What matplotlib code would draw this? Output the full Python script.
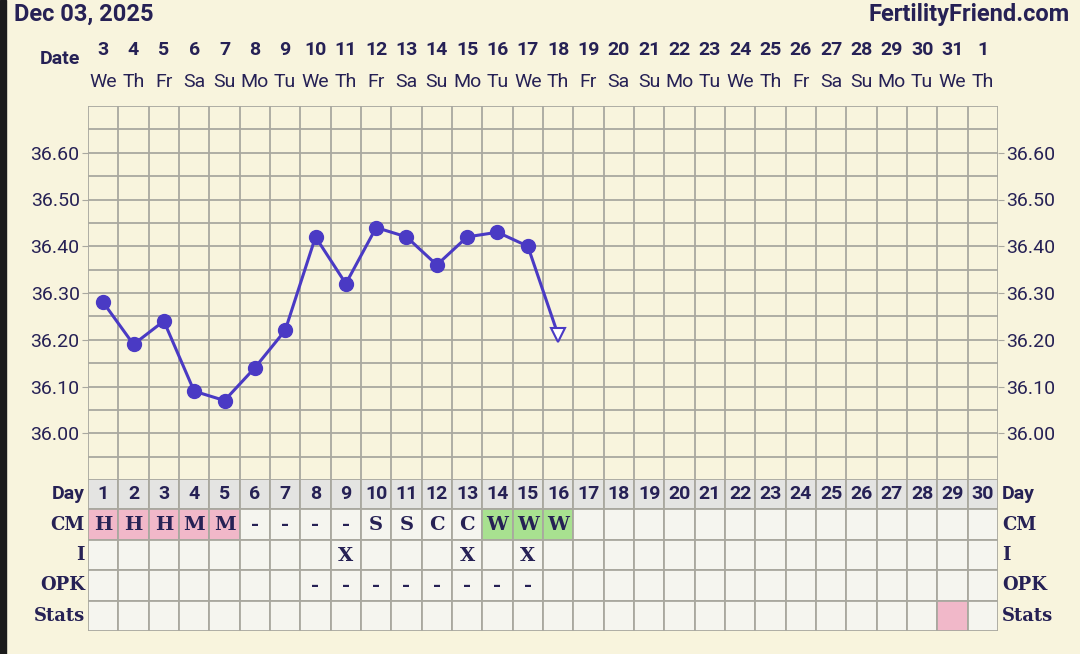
import matplotlib
matplotlib.use("Agg")
import matplotlib.pyplot as plt
from matplotlib.patches import Rectangle
import matplotlib.transforms as mtransforms
import pandas as pd

# chart data
title_date = "Dec 03, 2025"
site_name = "FertilityFriend.com"
dates = pd.date_range("2025-12-03", periods=30)
date_nums = [str(d.day) for d in dates]
weekdays = [d.strftime("%a")[:2] for d in dates]
cycle_days = list(range(1, 31))

temps = [36.28, 36.19, 36.24, 36.09, 36.07, 36.14, 36.22, 36.42,
         36.32, 36.44, 36.42, 36.36, 36.42, 36.43, 36.40, 36.21]
# last reading is shown as an open triangle
temp_open = [False] * 15 + [True]

cm = ["H", "H", "H", "M", "M", "-", "-", "-", "-", "S", "S", "C", "C", "W", "W", "W"] + [""] * 14
intercourse = [""] * 8 + ["X", "", "", "", "X", "", "X"] + [""] * 15
opk = [""] * 7 + ["-"] * 8 + [""] * 15
stats_pink = [29]

yticks = [36.00, 36.10, 36.20, 36.30, 36.40, 36.50, 36.60]
row_names = ["Day", "CM", "I", "OPK", "Stats"]

# colours
bg = "#f8f4dd"
navy = "#262155"
line_col = "#4a3ac4"
grid_col = "#a9a89f"
cell_bg = "#f5f5ef"
head_bg = "#e4e4e2"
pink = "#f1b8c9"
green = "#a8e190"
cm_colors = {"H": pink, "M": pink, "W": green}

W, H = 1080, 654
fig = plt.figure(figsize=(W / 100, H / 100), dpi=100, facecolor=bg)

def fx(px):
    return px / W

def fy(py):
    return 1 - py / H

# dark strip on the left edge
fig.patches.append(Rectangle((0, 0), fx(6), 1, transform=fig.transFigure,
                             color="#1b1b1b", zorder=0))

left, right = 88, 998
ax = fig.add_axes([fx(left), fy(480), fx(right - left), fy(106) - fy(480)])
ax.set_facecolor(bg)
ax.set_xlim(0.5, 30.5)
ax.set_ylim(35.90, 36.70)

# grid
for i in range(31):
    ax.axvline(0.5 + i, color=grid_col, lw=1.3, zorder=1)
for k in range(17):
    ax.axhline(35.90 + 0.05 * k, color=grid_col, lw=1.3, zorder=1)
for s in ax.spines.values():
    s.set_visible(False)

ax.set_xticks([])
ax.set_yticks(yticks)
ax.set_yticklabels([f"{t:.2f}" for t in yticks])
ax.tick_params(axis="y", length=4, color=grid_col, labelsize=14, labelcolor=navy,
               left=True, right=True, labelleft=True, labelright=True, pad=2)
for lab in ax.get_yticklabels():
    lab.set_fontfamily("Roboto")

# temperature line
days_t = list(range(1, len(temps) + 1))
ax.plot(days_t, temps, color=line_col, lw=2.2, zorder=3)
solid_x = [d for d, o in zip(days_t, temp_open) if not o]
solid_y = [t for t, o in zip(temps, temp_open) if not o]
ax.plot(solid_x, solid_y, "o", color=line_col, ms=10, zorder=4)
open_x = [d for d, o in zip(days_t, temp_open) if o]
open_y = [t for t, o in zip(temps, temp_open) if o]
ax.plot(open_x, open_y, "v", mfc="white", mec=line_col, mew=1.5, ms=10, zorder=4)

# header: dates and weekdays
trans = mtransforms.blended_transform_factory(ax.transData, fig.transFigure)
for d, n, w in zip(cycle_days, date_nums, weekdays):
    ax.text(d, fy(50), n, transform=trans, ha="center", va="center",
            fontsize=14, fontweight="bold", color=navy, family="Roboto")
    ax.text(d, fy(82), w, transform=trans, ha="center", va="center",
            fontsize=14, color=navy, family="Roboto")
fig.text(fx(60), fy(59), "Date", ha="center", va="center", fontsize=14,
         fontweight="bold", color=navy, family="Roboto")
fig.text(fx(14), fy(14), title_date, ha="left", va="center", fontsize=17,
         fontweight="bold", color=navy, family="Roboto")
fig.text(fx(1070), fy(14), site_name, ha="right", va="center", fontsize=17,
         fontweight="bold", color=navy, family="Roboto")

# lower table
tx = fig.add_axes([fx(left), fy(631), fx(right - left), fy(479) - fy(631)])
tx.set_xlim(0.5, 30.5)
tx.set_ylim(len(row_names), 0)
tx.axis("off")

def cell(col, row, color):
    tx.add_patch(Rectangle((col - 0.5, row), 1, 1, facecolor=color,
                           edgecolor=grid_col, lw=1.3))

def mark(col, row, s):
    if s:
        tx.text(col, row + 0.52, s, ha="center", va="center", fontsize=14,
                fontweight="bold", color=navy, family="DejaVu Serif")

for d in cycle_days:
    i = d - 1
    cell(d, 0, head_bg)
    tx.text(d, 0.5, str(d), ha="center", va="center", fontsize=14,
            fontweight="bold", color=navy, family="Roboto")
    cell(d, 1, cm_colors.get(cm[i], cell_bg))
    mark(d, 1, cm[i])
    cell(d, 2, cell_bg)
    mark(d, 2, intercourse[i])
    cell(d, 3, cell_bg)
    mark(d, 3, opk[i])
    cell(d, 4, pink if d in stats_pink else cell_bg)

ttrans = mtransforms.blended_transform_factory(fig.transFigure, tx.transData)
for r, name in enumerate(row_names):
    fam = "Roboto" if name == "Day" else "DejaVu Serif"
    fs = 14 if name == "Day" else 13
    tx.text(fx(85), r + 0.5, name, transform=ttrans, ha="right", va="center",
            fontsize=fs, fontweight="bold", color=navy, family=fam)
    tx.text(fx(1002), r + 0.5, name, transform=ttrans, ha="left", va="center",
            fontsize=fs, fontweight="bold", color=navy, family=fam)

fig.savefig("out.png", dpi=100, facecolor=bg)
